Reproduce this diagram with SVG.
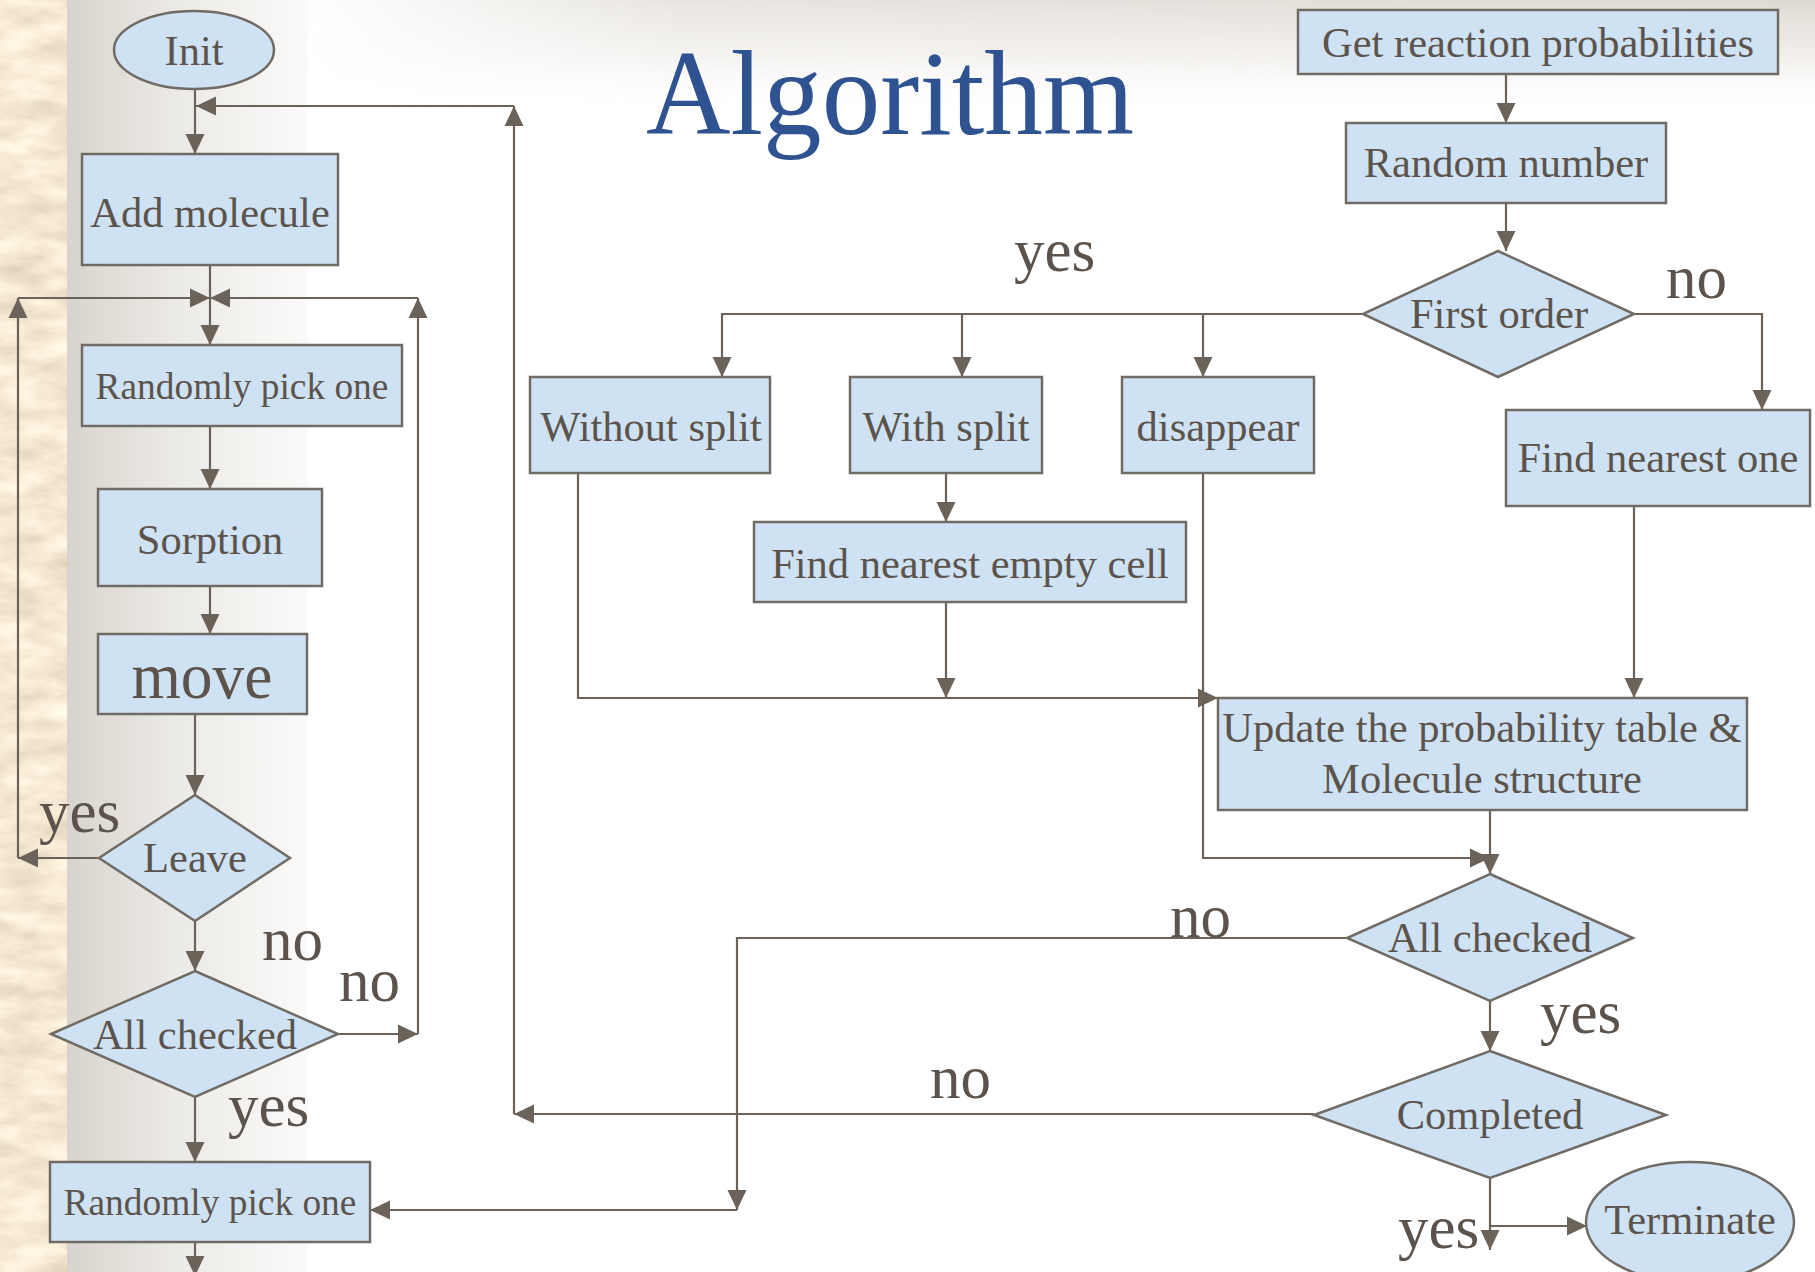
<svg xmlns="http://www.w3.org/2000/svg" width="1815" height="1272" viewBox="0 0 1815 1272">
  <defs>
    <style>
      .box { fill: #CFE2F3; stroke: #716B65; stroke-width: 2.5; }
      .t { font-family: "Liberation Serif", "Times New Roman", serif; font-size: 42.5px; fill: #5C544C; text-anchor: middle; }
      .sm { font-size: 37.4px; }
      .lbl { font-family: "Liberation Serif", "Times New Roman", serif; font-size: 61px; fill: #5C544C; }
      .c { fill: none; stroke: #6B6259; stroke-width: 2.2; }
      .a { marker-end: url(#ah); }
      .title { font-family: "Liberation Serif", "Times New Roman", serif; font-size: 121px; fill: #2F5291; }
    </style>
    <marker id="ah" markerUnits="userSpaceOnUse" markerWidth="20" markerHeight="20" refX="20" refY="10" orient="auto">
      <path d="M0,0.5 L20,10 L0,19.5 z" fill="#6B6259"/>
    </marker>
    <filter id="parch" x="0" y="0" width="1" height="1">
      <feTurbulence type="fractalNoise" baseFrequency="0.02 0.05" numOctaves="4" seed="7"/>
      <feColorMatrix type="matrix" values="0.45 0 0 0 0.69  0.45 0 0 0 0.59  0.45 0 0 0 0.43  0 0 0 0 1"/>
    </filter>
    <linearGradient id="sideShade" x1="0" y1="0" x2="1" y2="0">
      <stop offset="0" stop-color="#D8D4CD"/>
      <stop offset="0.45" stop-color="#ECEAE6"/>
      <stop offset="1" stop-color="#FBFAF9"/>
    </linearGradient>
    <linearGradient id="topShade" x1="0" y1="0" x2="0" y2="1">
      <stop offset="0" stop-color="#DEDAD3" stop-opacity="1"/>
      <stop offset="0.5" stop-color="#EEEBE7" stop-opacity="0.8"/>
      <stop offset="1" stop-color="#FFFFFF" stop-opacity="0"/>
    </linearGradient>
    <linearGradient id="topFade" x1="0" y1="0" x2="1" y2="0">
      <stop offset="0" stop-color="#fff" stop-opacity="0"/>
      <stop offset="0.25" stop-color="#fff" stop-opacity="0.7"/>
      <stop offset="1" stop-color="#fff" stop-opacity="1"/>
    </linearGradient>
    <mask id="topMask" maskUnits="userSpaceOnUse" x="300" y="0" width="1515" height="120">
      <rect x="300" y="0" width="1515" height="120" fill="url(#topFade)"/>
    </mask>
  </defs>

  <!-- backdrop: white page, parchment strip, soft shading -->
  <rect x="0" y="0" width="1815" height="1272" fill="#FFFFFF"/>
  <rect x="300" y="0" width="1515" height="115" fill="url(#topShade)" mask="url(#topMask)"/>
  <rect x="67" y="0" width="241" height="1272" fill="url(#sideShade)"/>
  <rect x="0" y="0" width="67" height="1272" filter="url(#parch)"/>

  <text class="title" x="646" y="134" textLength="488" lengthAdjust="spacingAndGlyphs">Algorithm</text>

  <!-- connectors -->
  <g id="connectors">
    <line class="c a" x1="195" y1="90" x2="195" y2="154"/>
    <line class="c a" x1="1314" y1="1114" x2="514" y2="1114"/>
    <line class="c a" x1="514" y1="1114" x2="514" y2="106"/>
    <line class="c a" x1="514" y1="106" x2="196" y2="106"/>

    <line class="c a" x1="210" y1="265" x2="210" y2="345"/>
    <line class="c a" x1="98" y1="858" x2="18" y2="858"/>
    <line class="c a" x1="18" y1="858" x2="18" y2="298"/>
    <line class="c a" x1="18" y1="298" x2="210" y2="298"/>
    <line class="c a" x1="338" y1="1034" x2="418" y2="1034"/>
    <line class="c a" x1="418" y1="1034" x2="418" y2="298"/>
    <line class="c a" x1="418" y1="298" x2="210" y2="298"/>

    <line class="c a" x1="210" y1="426" x2="210" y2="489"/>
    <line class="c a" x1="210" y1="586" x2="210" y2="634"/>
    <line class="c a" x1="195" y1="714" x2="195" y2="795"/>
    <line class="c a" x1="195" y1="921" x2="195" y2="971"/>
    <line class="c a" x1="195" y1="1097" x2="195" y2="1162"/>
    <line class="c a" x1="195" y1="1242" x2="195" y2="1276"/>

    <polyline class="c a" points="1346,938 737,938 737,1210"/>
    <line class="c a" x1="737" y1="1210" x2="370" y2="1210"/>

    <line class="c a" x1="1506" y1="74" x2="1506" y2="123"/>
    <line class="c a" x1="1506" y1="203" x2="1506" y2="251"/>
    <polyline class="c a" points="1634,314 1762,314 1762,410"/>
    <polyline class="c a" points="1363,314 722,314 722,377"/>
    <line class="c a" x1="962" y1="314" x2="962" y2="377"/>
    <line class="c a" x1="1203" y1="314" x2="1203" y2="377"/>
    <line class="c a" x1="946" y1="473" x2="946" y2="522"/>
    <line class="c a" x1="946" y1="602" x2="946" y2="698"/>
    <polyline class="c a" points="578,473 578,698 1218,698"/>
    <polyline class="c a" points="1203,473 1203,858 1490,858"/>
    <line class="c a" x1="1634" y1="506" x2="1634" y2="698"/>
    <line class="c a" x1="1490" y1="810" x2="1490" y2="874"/>
    <line class="c a" x1="1490" y1="1001" x2="1490" y2="1051"/>
    <line class="c a" x1="1490" y1="1178" x2="1490" y2="1250"/>
    <line class="c a" x1="1490" y1="1226" x2="1587" y2="1226"/>
  </g>

  <!-- left column -->
  <g id="init">
    <ellipse class="box" cx="194" cy="50" rx="80" ry="39"/>
    <text class="t" x="194" y="65">Init</text>
  </g>
  <g id="add-molecule">
    <rect class="box" x="82" y="154" width="256" height="111"/>
    <text class="t" x="210" y="227">Add molecule</text>
  </g>
  <g id="pick-one-top">
    <rect class="box" x="82" y="345" width="320" height="81"/>
    <text class="t sm" x="242" y="399">Randomly pick one</text>
  </g>
  <g id="sorption">
    <rect class="box" x="98" y="489" width="224" height="97"/>
    <text class="t" x="210" y="554">Sorption</text>
  </g>
  <g id="move">
    <rect class="box" x="98" y="634" width="209" height="80"/>
    <text class="t" x="202" y="698" style="font-size:66px" textLength="141" lengthAdjust="spacingAndGlyphs">move</text>
  </g>
  <g id="leave">
    <polygon class="box" points="195,795 290,858 195,921 99,858"/>
    <text class="t" x="195" y="872">Leave</text>
  </g>
  <g id="all-checked-left">
    <polygon class="box" points="195,971 338,1034 195,1097 51,1034"/>
    <text class="t" x="195" y="1049">All checked</text>
  </g>
  <g id="pick-one-bottom">
    <rect class="box" x="50" y="1162" width="320" height="80"/>
    <text class="t sm" x="210" y="1215">Randomly pick one</text>
  </g>

  <!-- right side -->
  <g id="get-probabilities">
    <rect class="box" x="1298" y="10" width="480" height="64"/>
    <text class="t" x="1538" y="57">Get reaction probabilities</text>
  </g>
  <g id="random-number">
    <rect class="box" x="1346" y="123" width="320" height="80"/>
    <text class="t" x="1506" y="177">Random number</text>
  </g>
  <g id="first-order">
    <polygon class="box" points="1498,251 1634,314 1498,377 1363,314"/>
    <text class="t" x="1499" y="328">First order</text>
  </g>
  <g id="without-split">
    <rect class="box" x="530" y="377" width="240" height="96"/>
    <text class="t" x="651" y="441">Without split</text>
  </g>
  <g id="with-split">
    <rect class="box" x="850" y="377" width="192" height="96"/>
    <text class="t" x="946" y="441">With split</text>
  </g>
  <g id="disappear">
    <rect class="box" x="1122" y="377" width="192" height="96"/>
    <text class="t" x="1218" y="441">disappear</text>
  </g>
  <g id="find-nearest-one">
    <rect class="box" x="1506" y="410" width="304" height="96"/>
    <text class="t" x="1658" y="472">Find nearest one</text>
  </g>
  <g id="find-empty-cell">
    <rect class="box" x="754" y="522" width="432" height="80"/>
    <text class="t" x="970" y="578">Find nearest empty cell</text>
  </g>
  <g id="update">
    <rect class="box" x="1218" y="698" width="529" height="112"/>
    <text class="t" x="1482" y="742">Update the probability table &amp;</text>
    <text class="t" x="1482" y="793">Molecule structure</text>
  </g>
  <g id="all-checked-right">
    <polygon class="box" points="1490,874 1633,938 1490,1001 1347,938"/>
    <text class="t" x="1490" y="952">All checked</text>
  </g>
  <g id="completed">
    <polygon class="box" points="1490,1051 1666,1115 1490,1178 1314,1115"/>
    <text class="t" x="1490" y="1129">Completed</text>
  </g>
  <g id="terminate">
    <ellipse class="box" cx="1690" cy="1222" rx="104" ry="60"/>
    <text class="t" x="1690" y="1234">Terminate</text>
  </g>

  <!-- branch labels -->
  <g id="labels">
    <text class="lbl" x="39" y="832">yes</text>
    <text class="lbl" x="262" y="960">no</text>
    <text class="lbl" x="339" y="1001">no</text>
    <text class="lbl" x="228" y="1126">yes</text>
    <text class="lbl" x="1014" y="271">yes</text>
    <text class="lbl" x="1666" y="298">no</text>
    <text class="lbl" x="1170" y="937">no</text>
    <text class="lbl" x="1540" y="1033">yes</text>
    <text class="lbl" x="930" y="1098">no</text>
    <text class="lbl" x="1398" y="1248">yes</text>
  </g>
</svg>
